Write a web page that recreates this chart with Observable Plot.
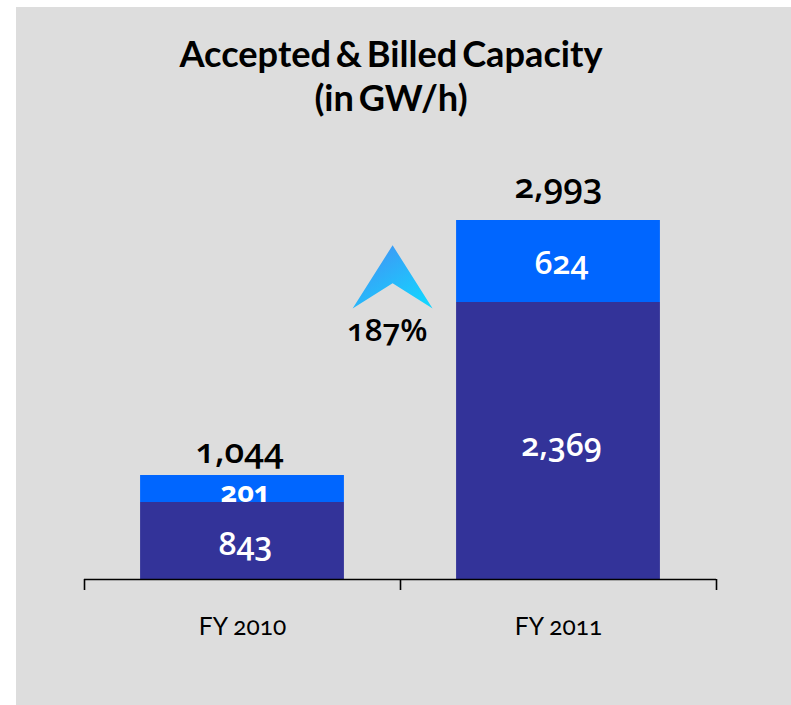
<!DOCTYPE html>
<html><head><meta charset="utf-8">
<script src="https://cdn.jsdelivr.net/npm/d3@7"></script>
<script src="https://cdn.jsdelivr.net/npm/@observablehq/plot@0.6"></script>
<style>
html,body{margin:0;background:#fff}
#panel{position:absolute;left:16px;top:7px;width:775px;height:698px;background:#ddd;overflow:hidden}
#title{position:absolute;left:0;top:24px;width:750px;text-align:center;font:700 36.2px/44px Lato,sans-serif;word-spacing:-4px;color:#000}
#chart{position:absolute;left:0;top:123px}
svg{display:block;background:transparent}
text{font-variant-numeric:oldstyle-nums;font-feature-settings:"onum"}
</style></head><body>
<div id="panel"><div id="title">Accepted &amp; Billed Capacity<br>(in GW/h)</div><div id="chart"></div></div>
<script>
const years = ["FY 2010", "FY 2011"];
const lower = [843, 2369];
const upper = [201, 624];
const totals = [1044, 2993];
const growth = "187%";

const colors = ["#333399", "#0066ff"];
const rows = years.flatMap((year, i) => [
  {i, year, part: "lower", base: 0, value: lower[i]},
  {i, year, part: "upper", base: lower[i], value: upper[i]}
]);

const digits = {fontFamily: '"Open Sans", sans-serif'};
const segOffset = {"FY 2010lower": [3, 4], "FY 2010upper": [3, 4], "FY 2011lower": [3, -11], "FY 2011upper": [3, 2]};
const totalOffset = [[-3, -24], [0, -34]];

const arrow = {
  draw(ctx, size) {
    const R = Math.sqrt(size / Math.PI);
    ctx.moveTo(0, -0.78 * R);
    ctx.lineTo(R, 0.8 * R);
    ctx.lineTo(0, 0.17 * R);
    ctx.lineTo(-R, 0.8 * R);
    ctx.closePath();
  }
};

const gradient = () => {
  const defs = d3.create("svg:defs");
  const g = defs.append("linearGradient").attr("id", "arrowGrad")
    .attr("x1", 0.2).attr("y1", 0.1).attr("x2", 0.9).attr("y2", 0.9);
  g.append("stop").attr("offset", "0%").attr("stop-color", "#3f97f5");
  g.append("stop").attr("offset", "100%").attr("stop-color", "#14d4ff");
  return defs.node();
};

const barLeft = 0.1775, barRight = 0.8225;
const barOf = part => Plot.rect(rows.filter(d => d.part === part), {
  x1: d => d.i + barLeft, x2: d => d.i + barRight,
  y1: "base", y2: d => d.base + d.value, fill: "part"
});
const labelsOf = part => rows.filter(d => d.part === part).map(r => Plot.text([r], {
  x: d => d.i + 0.5, y: d => d.base + d.value / 2,
  text: d => d3.format(",")(d.value),
  fill: "#fff", fontSize: r.value === 201 ? 29 : 32, fontWeight: r.value === 201 ? 700 : 600,
  dx: segOffset[r.year + r.part][0], dy: segOffset[r.year + r.part][1], ...digits
}));

document.getElementById("chart").append(Plot.plot({
  width: 775,
  height: 575,
  marginTop: 0, marginLeft: 0, marginRight: 0, marginBottom: 126,
  style: {background: "transparent", overflow: "visible"},
  x: {domain: [0, 2], range: [68, 700], axis: null},
  // Break points reproduce the reference's drawn bar heights, which are not linear in the printed values.
  y: {type: "linear", domain: [0, 843, 1044, 2369, 2993], range: [449, 372, 345, 172, 90], axis: null},
  color: {domain: ["lower", "upper"], range: colors},
  marks: [
    gradient,
    barOf("upper"),
    ...labelsOf("upper"),
    barOf("lower"),
    ...labelsOf("lower"),
    Plot.ruleY([0], {x1: 0, x2: 2, stroke: "#000", strokeWidth: 1.6}),
    Plot.axisX({ticks: [0, 1, 2], tickSize: 11, tickFormat: () => "", stroke: "#000", strokeWidth: 1.6, label: null, anchor: "bottom"}),
    ...totals.map((t, i) => Plot.text([t], {
      x: () => i + 0.5, y: d => d,
      text: d => d3.format(",")(d), fill: "#000",
      fontSize: 35, fontWeight: 600, dx: totalOffset[i][0], dy: totalOffset[i][1], ...digits
    })),
    Plot.text(years, {
      x: (d, i) => i + 0.5, y: () => 0, text: d => d,
      fill: "#000", fontSize: 24.5, dy: 48, fontFamily: "Lato, sans-serif"
    }),
    Plot.dot([growth], {x: () => 0.975, y: () => 2567, r: 40, symbol: arrow, fill: "url(#arrowGrad)", stroke: "none"}),
    Plot.text([growth], {x: () => 0.958, y: () => 2155, text: d => d, fill: "#000", fontSize: 31.5, fontWeight: 600, ...digits})
  ]
}));
</script></body></html>
